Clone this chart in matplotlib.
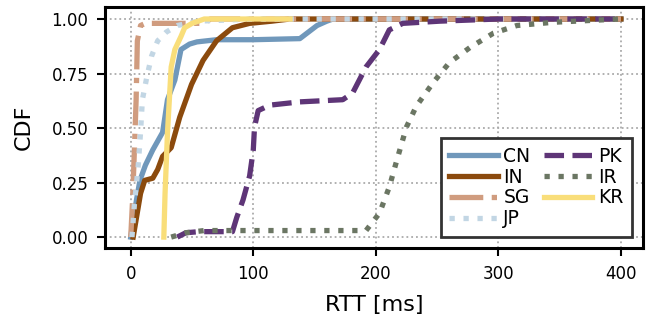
import matplotlib
matplotlib.use("Agg")
import matplotlib.pyplot as plt
from matplotlib.ticker import FormatStrFormatter

plt.rcParams['font.family'] = ['DejaVu Sans']

# CDF curves: RTT in ms and cumulative fraction
cn_x = [0, 2, 5, 7.5, 12, 18, 26, 30, 36, 41, 48, 54, 70, 100, 138, 145, 152, 160, 165, 400]
cn_y = [0, 0.08, 0.18, 0.26, 0.33, 0.40, 0.48, 0.63, 0.72, 0.86, 0.885, 0.895, 0.905, 0.905, 0.91, 0.94, 0.97, 0.99, 1.0, 1.0]

in_x = [2, 5, 8, 11.4, 18, 22, 26, 33, 40, 49.6, 59, 70, 83, 97, 115, 130, 400]
in_y = [0, 0.10, 0.20, 0.26, 0.27, 0.31, 0.37, 0.41, 0.55, 0.70, 0.81, 0.90, 0.96, 0.98, 0.99, 1.0, 1.0]

sg_x = [0, 1.5, 3, 4.4, 5.4, 8, 12, 60, 65, 400]
sg_y = [0, 0.17, 0.40, 0.63, 0.90, 0.97, 0.98, 0.98, 1.0, 1.0]

jp_x = [1, 3, 6, 8, 9.5, 13, 17, 22, 29, 38, 55, 100, 400]
jp_y = [0, 0.15, 0.32, 0.48, 0.63, 0.73, 0.83, 0.90, 0.94, 0.97, 0.99, 1.0, 1.0]

pk_x = [38, 45, 56, 83, 86.5, 91.6, 97, 100, 101, 104, 113.5, 138, 173, 181, 192, 203, 211, 222, 252, 300, 400]
pk_y = [0, 0.02, 0.025, 0.025, 0.09, 0.17, 0.28, 0.40, 0.505, 0.58, 0.605, 0.62, 0.63, 0.66, 0.78, 0.86, 0.95, 0.98, 0.99, 1.0, 1.0]

ir_x = [33, 45, 60, 100, 192, 203, 211, 217, 225, 233, 247, 260, 277, 296, 315, 345, 399]
ir_y = [0, 0.02, 0.03, 0.03, 0.03, 0.11, 0.23, 0.35, 0.505, 0.60, 0.71, 0.80, 0.87, 0.935, 0.97, 0.985, 1.0]

kr_x = [27, 28, 30, 33, 36, 41, 44, 50, 60, 130]
kr_y = [0, 0.20, 0.48, 0.78, 0.86, 0.92, 0.96, 0.98, 1.0, 1.0]

labels = ["CN", "IN", "SG", "JP", "PK", "IR", "KR"]
xticks = [0, 100, 200, 300, 400]
yticks = [0.0, 0.25, 0.5, 0.75, 1.0]

fig = plt.figure(figsize=(6.51, 3.24), dpi=100)
ax = fig.add_axes([105/651, 1-248/324, (643-105)/651, (248-7)/324])

lw = 3.8
series = [
    (cn_x, cn_y, "#7098bb", '-'),
    (in_x, in_y, "#8b4a0d", '-'),
    (sg_x, sg_y, "#d09c7f", '-.'),
    (jp_x, jp_y, "#c2d6e4", ':'),
    (pk_x, pk_y, "#5e3577", '--'),
    (ir_x, ir_y, "#6b7663", ':'),
    (kr_x, kr_y, "#f9de7a", '-'),
]
for (xs, ys, c, ls), lab in zip(series, labels):
    ax.plot(xs, ys, color=c, lw=lw, ls=ls, label=lab)

ax.set_xlim(-21, 418)
ax.set_ylim(-0.05, 1.055)
ax.set_xticks(xticks)
ax.set_yticks(yticks)
ax.yaxis.set_major_formatter(FormatStrFormatter('%.2f'))
ax.grid(True, ls=':', color='#aaaaaa', lw=1.3)
for s in ax.spines.values():
    s.set_linewidth(2.2)
ax.tick_params(labelsize=12, width=1.5, length=6, pad=6)
ax.set_xlabel("RTT [ms]", fontsize=16, labelpad=9)
ax.set_ylabel("CDF", fontsize=16, labelpad=13)

leg = ax.legend(ncol=2, loc='lower right', fontsize=13.5, fancybox=False,
                edgecolor='#333333', framealpha=1, handlelength=2.6,
                handletextpad=0.3, columnspacing=0.7, labelspacing=0.1,
                borderpad=0.45, borderaxespad=0.6)
leg.get_frame().set_linewidth(2)

fig.savefig("out.png", dpi=100)
